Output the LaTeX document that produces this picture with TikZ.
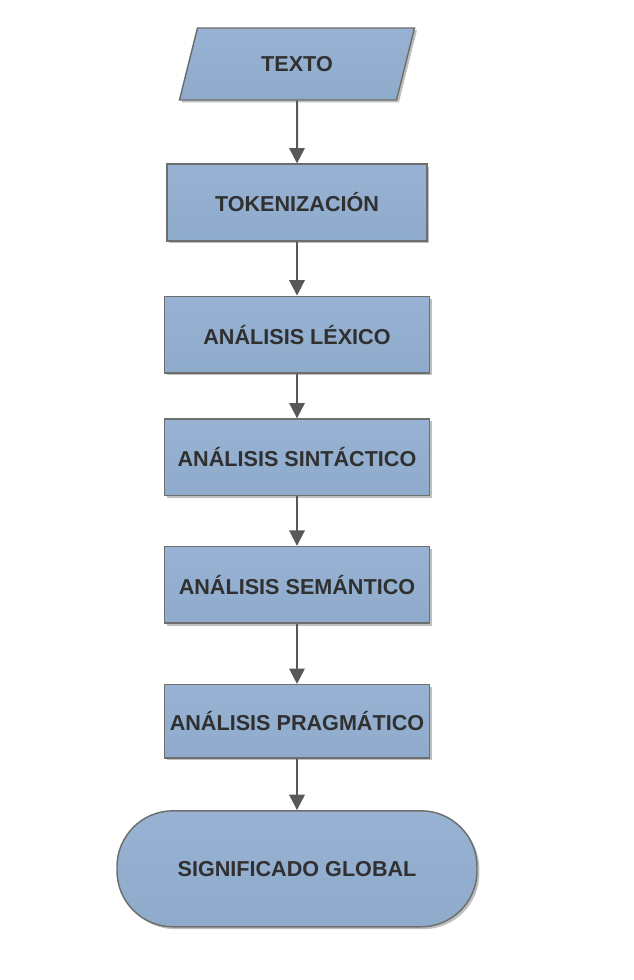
\documentclass[tikz,border=0pt]{standalone}
\usepackage{fontspec}
\setmainfont{Liberation Sans}
\usepackage{tikz}
\usetikzlibrary{arrows.meta,shapes,shadows,positioning}
\definecolor{boxfill}{HTML}{8FABCC}
\definecolor{boxtop}{HTML}{97B2D2}
\definecolor{boxline}{HTML}{6E6E6E}
\definecolor{arrowline}{HTML}{585858}
\definecolor{textgray}{HTML}{303030}
\tikzstyle{step box}=[draw=boxline, line width=1.1pt,
                    top color=boxtop, bottom color=boxfill,
                    drop shadow={shadow xshift=1.8pt, shadow yshift=-1.8pt,
                    opacity=0.25, fill=black},
                    text=textgray, font=\fontsize{16.2pt}{19pt}\bfseries,
                    inner sep=0pt, align=center]
\tikzstyle{process}=[step box, rectangle, minimum width=198.5pt,
                    minimum height=57.5pt]
\tikzstyle{io}     =[step box, trapezium, trapezium left angle=67,
                    trapezium right angle=113, minimum width=177pt,
                    minimum height=54pt, trapezium stretches=true]
\tikzstyle{terminal}=[step box, rectangle, rounded corners=42pt,
                    minimum width=270pt, minimum height=87pt]
\tikzstyle{flow}   =[-{Triangle[width=11.5pt,length=11.5pt]}, draw=arrowline,
                    fill=arrowline, line width=1.5pt]

\begin{document}
\begin{tikzpicture}
    \useasboundingbox (0,0) rectangle (475.5pt,-735pt);
    \node (texto) [io] at (222.75pt,-48pt) {TEXTO};
    \node (tok)  [process, minimum width=195pt, below=47pt of texto] {TOKENIZACIÓN};
    \node (lex)  [process, below=40.5pt of tok] {ANÁLISIS LÉXICO};
    \node (sin)  [process, below=33.5pt of lex] {ANÁLISIS SINTÁCTICO};
    \node (sem)  [process, below=37pt of sin] {ANÁLISIS SEMÁNTICO};
    \node (prag) [process, minimum height=55pt, below=45pt of sem] {ANÁLISIS PRAGMÁTICO};
    \node (glob) [terminal, below=38.5pt of prag] {SIGNIFICADO GLOBAL};
    \draw [flow] (texto) -- (tok);
    \draw [flow] (tok) -- (lex);
    \draw [flow] (lex) -- (sin);
    \draw [flow] (sin) -- (sem);
    \draw [flow] (sem) -- (prag);
    \draw [flow] (prag) -- (glob);
\end{tikzpicture}
\end{document}
